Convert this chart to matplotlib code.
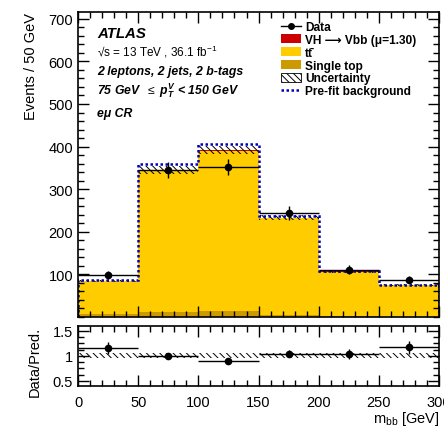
import numpy as np
import matplotlib
matplotlib.use("Agg")
import matplotlib.pyplot as plt
from matplotlib.lines import Line2D
from matplotlib.patches import Patch
from matplotlib.ticker import MultipleLocator, AutoMinorLocator

plt.rcParams['font.family'] = ['Liberation Sans', 'DejaVu Sans']
plt.rcParams['mathtext.fontset'] = 'custom'
plt.rcParams['mathtext.rm'] = 'Liberation Sans'
plt.rcParams['mathtext.it'] = 'Liberation Sans:italic:bold'
plt.rcParams['mathtext.bf'] = 'Liberation Sans:bold'
plt.rcParams['hatch.linewidth'] = 0.7

# m_bb binning (GeV)
bin_edges = [0, 50, 100, 150, 200, 250, 300]

# post-fit yields per bin
single_top = [7, 12, 15, 4, 2, 1]
ttbar = [76.5, 331.5, 375.0, 227.5, 104.5, 73.7]
vh_signal = [0.5, 1.5, 2.0, 1.5, 0.5, 0.3]
prefit_bkg = [87, 358, 405, 238, 108, 76]
data = [98, 345, 352, 244, 111, 88]

# relative systematic uncertainty on the prediction
syst_main = [0.025, 0.025, 0.025, 0.025, 0.025, 0.025]
syst_ratio = [0.05, 0.05, 0.05, 0.05, 0.05, 0.05]

HATCH = '\\' * 5

edges = np.array(bin_edges, dtype=float)
centers = 0.5 * (edges[1:] + edges[:-1])
widths = np.diff(edges)
stop = np.array(single_top)
tt = np.array(ttbar)
vh = np.array(vh_signal)
pred = stop + tt + vh
obs = np.array(data, dtype=float)
obs_err = np.sqrt(obs)

fig = plt.figure(figsize=(4.44, 4.27), dpi=100)
ax = fig.add_axes([0.1757, 0.2553, 0.8133, 0.7143])
rax = fig.add_axes([0.1757, 0.0937, 0.8133, 0.1405], sharex=ax)

# --- main panel: stacked backgrounds ---
ax.bar(centers, stop, width=widths, color='#cc9900', linewidth=0)
ax.bar(centers, tt, width=widths, bottom=stop, color='#ffcc00', linewidth=0)
ax.bar(centers, vh, width=widths, bottom=stop + tt, color='#cc0000', linewidth=0)

unc = pred * np.array(syst_main)
ax.bar(centers, 2 * unc, width=widths, bottom=pred - unc, fill=False,
       hatch=HATCH, edgecolor='k', linewidth=0)

ax.stairs(prefit_bkg, edges, color='#0000bb', linestyle=(0, (1, 1)), linewidth=1.8)

ax.errorbar(centers, obs, yerr=obs_err, xerr=widths / 2, fmt='o', color='k',
            ms=4.5, lw=1.0, capsize=0, zorder=5)

ax.set_xlim(0, 300)
ax.set_ylim(0, 716)
ax.set_yticks([100, 200, 300, 400, 500, 600, 700])
ax.yaxis.set_minor_locator(MultipleLocator(20))
ax.xaxis.set_major_locator(MultipleLocator(50))
ax.xaxis.set_minor_locator(MultipleLocator(10))
ax.set_ylabel('Events / 50 GeV', fontsize=10.5, loc='top')
ax.yaxis.set_label_coords(-0.112, 1.0)
plt.setp(ax.get_xticklabels(), visible=False)

# --- ratio panel ---
band = np.array(syst_ratio)
rax.bar(centers, 2 * band, width=widths, bottom=1 - band, fill=False,
        hatch=HATCH, edgecolor='k', linewidth=0)
rax.errorbar(centers, obs / pred, yerr=obs_err / pred, xerr=widths / 2, fmt='o',
             color='k', ms=4.5, lw=1.0, capsize=0, zorder=5)
rax.set_ylim(0.4, 1.6)
rax.set_yticks([0.5, 1.0, 1.5])
rax.set_yticklabels(['0.5', '1', '1.5'])
rax.yaxis.set_minor_locator(AutoMinorLocator(4))
rax.set_ylabel('Data/Pred.', fontsize=10.5)
rax.yaxis.set_label_coords(-0.1, 0.41)
rax.set_xlabel(r'm$_{\mathrm{bb}}$ [GeV]', fontsize=10.5, loc='right', labelpad=0)

for a in (ax, rax):
    a.tick_params(which='both', direction='in', top=True, right=True, labelsize=10.5)
    a.tick_params(which='major', length=8, width=1.0)
    a.tick_params(which='minor', length=4, width=1.0)
    for s in a.spines.values():
        s.set_linewidth(1.2)
rax.tick_params(axis='x', which='major', pad=6.5)

# --- labels ---
x0 = 97 / 444
def fy(px):
    return 1 - px / 427

fig.text(x0, fy(37.5), 'ATLAS', fontsize=10.8, fontweight='bold', style='italic')
fig.text(x0, fy(57), '\u221as = 13 TeV , 36.1 fb$^{\\mathrm{-1}}$', fontsize=8.5)
fig.text(x0, fy(75), '2 leptons, 2 jets, 2 b-tags', fontsize=8.8,
         fontweight='bold', style='italic')
fig.text(x0, fy(94.5), r'75 GeV  $\leq$ $p_{T}^{V}$ < 150 GeV', fontsize=8.8,
         fontweight='bold', style='italic')
fig.text(x0, fy(116.5), 'e\u03bc CR', fontsize=8.8, fontweight='bold', style='italic')

handles = [
    Line2D([], [], color='k', marker='o', ms=4, lw=1),
    Patch(facecolor='#cc0000', linewidth=0),
    Patch(facecolor='#ffcc00', linewidth=0),
    Patch(facecolor='#cc9900', linewidth=0),
    Patch(facecolor='white', edgecolor='k', hatch=HATCH, linewidth=0.6),
    Line2D([], [], color='#0000bb', linestyle=(0, (1, 1)), lw=1.8),
]
labels = [
    'Data',
    'VH \u27f6 Vbb (\u03bc=1.30)',
    'tt\u0304',
    'Single top',
    'Uncertainty',
    'Pre-fit background',
]
leg = fig.legend(handles, labels, loc='upper left', bbox_to_anchor=(281 / 444, fy(22)),
                 frameon=False, prop={'size': 8.6, 'weight': 'bold'},
                 handlelength=1.7, handleheight=0.74, handletextpad=0.34,
                 labelspacing=0.07, borderpad=0, borderaxespad=0)

fig.savefig('out.png', dpi=100)
